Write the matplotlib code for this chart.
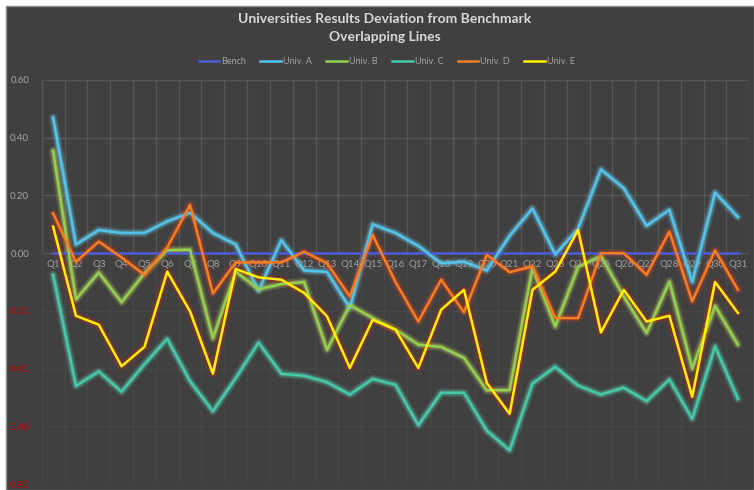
import numpy as np
import matplotlib.pyplot as plt
from matplotlib.patches import Rectangle

plt.rcParams['font.family'] = ['Lato', 'DejaVu Sans']

quarters = ['Q' + str(i) for i in range(1, 32)]

bench = [0.0] * 31
univ_a = [0.47, 0.03, 0.08, 0.07, 0.07, 0.11, 0.14, 0.07, 0.03, -0.13, 0.045, -0.06, -0.065, -0.19, 0.10, 0.07,
          0.025, -0.035, -0.03, -0.06, 0.06, 0.155, -0.005, 0.085, 0.29, 0.225, 0.095, 0.15, -0.10, 0.21, 0.125]
univ_b = [0.355, -0.16, -0.067, -0.17, -0.07, 0.01, 0.012, -0.295, -0.064, -0.125, -0.107, -0.10, -0.335, -0.18,
          -0.225, -0.265, -0.317, -0.325, -0.363, -0.475, -0.475, -0.052, -0.254, -0.048, -0.01, -0.15, -0.277,
          -0.098, -0.40, -0.183, -0.317]
univ_c = [-0.075, -0.46, -0.41, -0.48, -0.385, -0.297, -0.444, -0.548, -0.433, -0.31, -0.418, -0.425, -0.447, -0.49,
          -0.436, -0.456, -0.596, -0.484, -0.484, -0.615, -0.683, -0.452, -0.394, -0.459, -0.49, -0.466, -0.513,
          -0.438, -0.574, -0.323, -0.505]
univ_d = [0.138, -0.03, 0.04, -0.015, -0.075, 0.02, 0.167, -0.14, -0.032, -0.032, -0.032, 0.005, -0.035, -0.15,
          0.063, -0.10, -0.237, -0.092, -0.205, -0.006, -0.066, -0.046, -0.225, -0.225, 0.0, 0.0, -0.075, 0.075,
          -0.167, 0.01, -0.127]
univ_e = [0.092, -0.217, -0.248, -0.392, -0.325, -0.064, -0.202, -0.418, -0.055, -0.084, -0.092, -0.138, -0.219,
          -0.398, -0.231, -0.265, -0.398, -0.196, -0.127, -0.45, -0.557, -0.127, -0.064, 0.08, -0.275, -0.127,
          -0.237, -0.217, -0.498, -0.10, -0.207]

series = [
    ('Bench', bench, '#4F5BD5', None),
    ('Univ. A', univ_a, '#52C4EC', '#6FD6F5'),
    ('Univ. B', univ_b, '#92D050', '#C8E060'),
    ('Univ. C', univ_c, '#45C9A6', '#5FE0C0'),
    ('Univ. D', univ_d, '#F47E20', '#E04020'),
    ('Univ. E', univ_e, '#FFF200', '#D82010'),
]

W, H = 754, 490
fig = plt.figure(figsize=(W / 100, H / 100), dpi=100, facecolor='white')
fig.patches.append(Rectangle((6 / W, 0), 1 - 6 / W, 1 - 6 / H, transform=fig.transFigure,
                             facecolor='#404040', edgecolor='#8C8C8C', lw=1, zorder=-10))

ax = fig.add_axes([41.7 / W, 6 / H, 707.6 / W, 404 / H])
ax.set_zorder(2)
ax.set_facecolor('none')
for s in ax.spines.values():
    s.set_visible(False)

x = np.arange(len(quarters))
for name, vals, col, glow in series:
    if glow is not None:
        ax.plot(x, vals, color=glow, lw=6, alpha=0.18, solid_capstyle='round', zorder=2)
        ax.plot(x, vals, color=glow, lw=3.5, alpha=0.3, solid_capstyle='round', zorder=2)
    ax.plot(x, vals, color=col, lw=1.8, label=name, zorder=3)

ax.set_xlim(-0.5, len(quarters) - 0.5)
ax.set_ylim(-0.8, 0.6)

yt = [0.6, 0.4, 0.2, 0.0, -0.2, -0.4, -0.6, -0.8]
ax.set_yticks(yt)
ax.set_yticklabels([f"{abs(v):.2f}" for v in yt], fontsize=7)
for lab, v in zip(ax.get_yticklabels(), yt):
    lab.set_color('#C00000' if v < 0 else '#A6A6A6')
ax.tick_params(axis='y', length=0, pad=9)

# grid: clearer above zero, very faint below
for v in yt:
    ax.axhline(v, color='#565656' if v >= 0 else '#474747', lw=1, zorder=1)
bounds = np.arange(-0.5, len(quarters), 1.0)
ax.vlines(bounds, 0, 0.6, color='#565656', lw=1, zorder=1)
ax.vlines(bounds, -0.8, 0, color='#474747', lw=1, zorder=1)

ax.set_xticks([])
for i, q in enumerate(quarters):
    ax.text(i, -0.04, q, ha='center', va='center', fontsize=7, color='#A0A0A0', zorder=2.5)

fig.text(385 / W, 1 - 19 / H, 'Universities Results Deviation from Benchmark', ha='center', va='center',
         fontsize=10, fontweight='bold', color='#D9D9D9')
fig.text(385 / W, 1 - 37 / H, 'Overlapping Lines', ha='center', va='center',
         fontsize=10, fontweight='bold', color='#D9D9D9')

leg = fig.legend(loc='center', bbox_to_anchor=(386.7 / W, 1 - 61.7 / H), ncol=6, frameon=False,
                 fontsize=6.5, handlelength=2.3, handletextpad=0.2, columnspacing=1.6)
for t in leg.get_texts():
    t.set_color('#A6A6A6')

fig.savefig('out.png', dpi=100, facecolor=fig.get_facecolor())
